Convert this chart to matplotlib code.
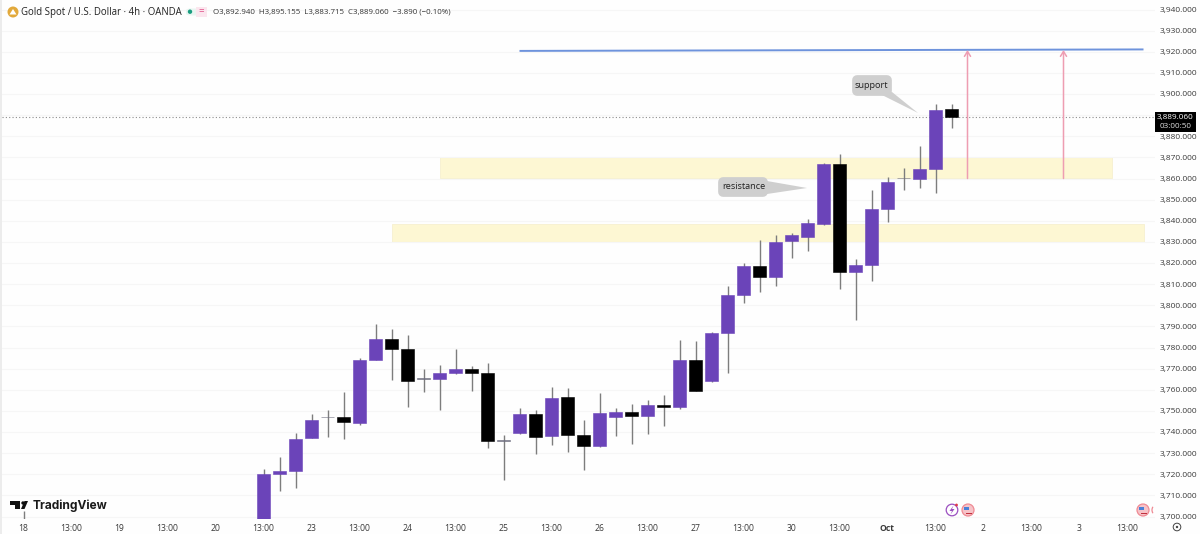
import matplotlib
matplotlib.use("Agg")
import matplotlib.pyplot as plt
from matplotlib.patches import FancyBboxPatch, Polygon, Ellipse, Rectangle, Arc

# ---------- data ----------
opens = [3698.0, 3720.0, 3721.5, 3737.0, 3747.1, 3747.0, 3744.3, 3774.2, 3784.2, 3779.1, 3765.4,
         3765.1, 3768.1, 3769.8, 3767.9, 3736.0, 3739.4, 3748.5, 3738.1, 3756.4, 3738.6, 3733.4,
         3746.9, 3749.5, 3747.4, 3752.8, 3751.8, 3774.1, 3764.3, 3786.7, 3804.7, 3818.6, 3813.5,
         3830.2, 3832.3, 3838.5, 3866.9, 3815.9, 3819.2, 3845.7, 3860.1, 3859.9, 3864.6, 3892.94]
highs = [3722.3, 3728.3, 3739.4, 3748.5, 3750.4, 3759.1, 3774.9, 3791.1, 3788.6, 3785.8, 3770.0,
         3771.7, 3779.1, 3771.4, 3772.6, 3738.6, 3751.4, 3750.2, 3761.5, 3761.0, 3745.5, 3758.3,
         3751.4, 3753.2, 3755.1, 3757.4, 3783.5, 3783.0, 3787.3, 3809.1, 3819.8, 3831.0, 3833.3,
         3834.2, 3840.7, 3867.2, 3871.6, 3821.7, 3854.6, 3860.6, 3865.0, 3875.2, 3895.1, 3895.155]
lows = [3698.0, 3712.1, 3713.6, 3737.0, 3737.8, 3736.5, 3743.3, 3774.2, 3764.6, 3752.0, 3759.1,
        3750.4, 3767.3, 3759.6, 3732.6, 3717.3, 3739.0, 3729.6, 3734.0, 3730.5, 3722.2, 3732.7,
        3737.9, 3734.3, 3739.0, 3742.7, 3751.0, 3759.4, 3763.5, 3767.8, 3801.2, 3806.3, 3809.1,
        3822.4, 3825.7, 3838.0, 3807.5, 3793.0, 3811.6, 3839.4, 3854.6, 3855.5, 3853.3, 3883.715]
closes = [3720.1, 3721.4, 3736.8, 3745.8, 3747.0, 3744.6, 3774.1, 3784.2, 3779.1, 3764.0, 3765.3,
          3768.1, 3769.8, 3767.8, 3735.6, 3735.9, 3748.7, 3737.8, 3756.2, 3738.6, 3733.4, 3749.1,
          3749.5, 3747.4, 3752.6, 3751.7, 3773.9, 3759.4, 3786.9, 3804.7, 3818.6, 3813.4, 3830.1,
          3833.4, 3838.8, 3866.9, 3815.9, 3819.2, 3845.6, 3858.2, 3860.0, 3864.6, 3892.4, 3889.06]
stray_wick_x, stray_wick_high, stray_wick_low = -15, 3702.5, 3698.0

zone_upper = (11, 53, 3860.0, 3870.2)
zone_lower = (8, 55, 3830.0, 3838.5)
blue_line = ((16, 55), (3920.4, 3921.1))
arrow_x = [44, 50]
arrow_from, arrow_to = 3860.0, 3920.8
last_price = 3889.06

price_ticks = list(range(3700, 3941, 10))
hidden_price_tick = 3890  # covered by the last-price label in the reference
time_positions = list(range(-15, 55, 3))
time_labels = ["18", "13:00", "19", "13:00", "20", "13:00", "23", "13:00", "24", "13:00", "25", "13:00",
               "26", "13:00", "27", "13:00", "30", "13:00", "Oct", "13:00", "2", "13:00", "3", "13:00"]

# ---------- figure ----------
W, H = 1200, 534
plt.rcParams["font.family"] = ["Open Sans", "DejaVu Sans"]
fig = plt.figure(figsize=(W / 100, H / 100), dpi=100, facecolor="#fefefe")
AX_L, AX_R, AX_T, AX_B = 2, 1155, 0, 519
ax = fig.add_axes([AX_L / W, 1 - AX_B / H, (AX_R - AX_L) / W, (AX_B - AX_T) / H], zorder=1)
ax.set_facecolor("#fefefe")
for s in ax.spines.values():
    s.set_visible(False)

def P(x, y):
    return (x / W, 1 - y / H)

def dot(x, y, r, **kw):
    fig.add_artist(Ellipse(P(x, y), 2 * r / W, 2 * r / H, transform=fig.transFigure, **kw))

PURPLE, BLACK, WICK = "#6b44b9", "#000000", "#7d7d7d"

ax.set_yticks(price_ticks)
ax.set_yticklabels(["" if p == hidden_price_tick else f"{p:,.3f}" for p in price_ticks],
                   fontsize=6.0, color="#3a3a3a")
ax.yaxis.tick_right()
ax.tick_params(axis="y", length=0, pad=3.6)
ax.set_xticks(time_positions)
ax.set_xticklabels(time_labels, fontsize=6.2, color="#3a3a3a")
ax.tick_params(axis="x", length=0, pad=3.5)
for lab, txt in zip(ax.get_xticklabels(), time_labels):
    if txt == "Oct":
        lab.set_fontweight("bold")
ax.grid(axis="y", color="#f6f6f6", lw=0.8, zorder=0)

# zones
for x0, x1, y0, y1 in (zone_upper, zone_lower):
    ax.add_patch(Rectangle((x0, y0), x1 - x0, y1 - y0, facecolor="#fdf7d3", edgecolor="#f6f0cf", lw=0.6, zorder=1))

# last price line
ax.axhline(last_price, color="#8c8c8c", lw=0.8, ls=(0, (1, 2)), zorder=1.5)

# candles
ax.vlines([stray_wick_x], stray_wick_low, stray_wick_high, color=WICK, lw=1, zorder=2)
for i, (o, h, l, c) in enumerate(zip(opens, highs, lows, closes)):
    ax.vlines(i, l, h, color=WICK, lw=1.0, zorder=2)
    doji = abs(c - o) < 0.3
    col = "#6f6f80" if doji else (PURPLE if c >= o else BLACK)
    ax.bar(i, max(abs(c - o), 0.3), bottom=min(o, c), width=0.76, color=col,
           edgecolor=col, linewidth=0.4, zorder=3)

# blue target line and arrows
ax.plot(blue_line[0], blue_line[1], color="#6e93dc", lw=1.4, zorder=4, solid_capstyle="butt")
for xa in arrow_x:
    ax.annotate("", xy=(xa, arrow_to), xytext=(xa, arrow_from), zorder=4,
                arrowprops=dict(arrowstyle="->,head_width=0.22,head_length=0.35", color="#ee9db2", lw=1.1,
                                shrinkA=0, shrinkB=0))

ax.set_xlim((AX_L - 263.5) / 16, (AX_R - 263.5) / 16)
ax.set_ylim(3940 - (AX_B - 9.5) / 2.1125, 3940 + 9.5 / 2.1125)

# callouts
def callout(x0, y0, x1, y1, tip, base, text, tx, ty):
    fig.add_artist(Polygon([P(*base[0]), P(*tip), P(*base[1])], closed=True, transform=fig.transFigure,
                           facecolor="#cfcfcf", edgecolor="none", zorder=5))
    fig.add_artist(FancyBboxPatch(P(x0 + 5, y1 - 5), (x1 - x0 - 10) / W, (y1 - y0 - 10) / H,
                                  boxstyle="round,pad=0,rounding_size=0", transform=fig.transFigure,
                                  facecolor="#cfcfcf", edgecolor="#cfcfcf", lw=7, joinstyle="round",
                                  capstyle="round", zorder=5))
    fig.text(tx / W, 1 - ty / H, text, fontsize=6.6, color="#222222", ha="center", va="center", zorder=6)

callout(852, 75, 892, 96, (918, 113), [(880, 94), (892, 92)], "support", 871.5, 85.5)
callout(718, 177, 768, 197, (807, 188), [(767, 181), (767, 194)], "resistance", 743.5, 186.5)

# price label
fig.add_artist(Rectangle(P(1155, 131.5), 41 / W, 19.5 / H, transform=fig.transFigure, facecolor="#000000",
                         edgecolor="none", zorder=5))
fig.text(1175.5 / W, 1 - 117 / H, "3,889.060", color="white", fontsize=5.9, ha="center", va="center", zorder=6)
fig.text(1175.5 / W, 1 - 126.5 / H, "03:00:50", color="#dddddd", fontsize=5.9, ha="center", va="center", zorder=6)

# header
dot(13, 12, 5.5, facecolor="#e2a93b", edgecolor="none", zorder=5)
fig.add_artist(Polygon([P(9.5, 14.5), P(13, 9), P(16.5, 14.5)], transform=fig.transFigure, facecolor="white", zorder=6))
fig.text(21 / W, 1 - 12 / H, "Gold Spot / U.S. Dollar · 4h · OANDA", fontsize=6.9, color="#222222",
         va="center", ha="left", zorder=6)
fig.add_artist(FancyBboxPatch(P(186, 15.5), 21 / W, 7 / H, boxstyle="round,pad=0,rounding_size=0.004",
                              transform=fig.transFigure, facecolor="#e9f5f1", edgecolor="none", zorder=5))
fig.add_artist(Rectangle(P(196, 16.5), 11 / W, 9 / H, transform=fig.transFigure, facecolor="#fbe6ee",
                         edgecolor="none", zorder=5.2))
dot(190, 11.7, 2.2, facecolor="#1a9d80", edgecolor="none", zorder=6)
fig.text(201 / W, 1 - 11.7 / H, "=", fontsize=7, color="#e0528a", ha="center", va="center", zorder=6)
fig.text(213 / W, 1 - 12 / H, "O3,892.940  H3,895.155  L3,883.715  C3,889.060  −3.890 (−0.10%)",
         fontsize=5.7, color="#333333", va="center", ha="left", zorder=6)

# TradingView logo
for pts in ([(10, 501), (20, 501), (20, 509), (15, 509), (15, 504.5), (10, 504.5)],
            [(28, 501), (24.5, 501), (21, 509), (24.5, 509)]):
    fig.add_artist(Polygon([P(*p) for p in pts], transform=fig.transFigure, facecolor="#111111", zorder=6))
dot(23, 503, 1.7, facecolor="#111111", edgecolor="none", zorder=6)
fig.text(33 / W, 1 - 505.5 / H, "TradingView", fontsize=8.6, fontweight="bold", family=["Inter", "DejaVu Sans"],
         color="#1a1a1a", va="center", ha="left", zorder=6)

# event badges
dot(952, 510, 5.8, facecolor="white", edgecolor="#9b4fc0", lw=0.9, zorder=6)
fig.add_artist(Polygon([P(953.5, 505.5), P(949.5, 511), P(952, 511), P(950.5, 514.5), P(954.5, 509), P(952, 509)],
                       transform=fig.transFigure, facecolor="#9b4fc0", edgecolor="none", zorder=7))
dot(956.5, 505, 1.4, facecolor="#e0394a", edgecolor="none", zorder=8)
for bx in (968, 1143):
    dot(bx, 510, 6, facecolor="#f6c3c8", edgecolor="#ef8a94", lw=0.9, zorder=6)
    fig.add_artist(Rectangle(P(bx - 4, 510), 5 / W, 3.5 / H, transform=fig.transFigure, facecolor="#4a80d8", zorder=7))
    fig.add_artist(Rectangle(P(bx - 2, 514), 6 / W, 1.5 / H, transform=fig.transFigure, facecolor="#c0303c", zorder=7))
# next event badge, cut off by the price scale
cut_c = P(1158, 510)
fig.add_artist(Arc(cut_c, 12 / W, 12 / H, theta1=125, theta2=235, transform=fig.transFigure,
                   edgecolor="#ef8a94", lw=0.9, zorder=6))

# settings glyph
dot(1177, 527, 3.8, facecolor="none", edgecolor="#444444", lw=0.7, zorder=6)
dot(1177, 527, 1.2, facecolor="#444444", edgecolor="none", zorder=6)

# left window edge
fig.add_artist(Rectangle((0, 0), 1.5 / W, 1, transform=fig.transFigure, facecolor="#ececec", edgecolor="none", zorder=6))

fig.savefig("out.png", dpi=100, facecolor=fig.get_facecolor())
